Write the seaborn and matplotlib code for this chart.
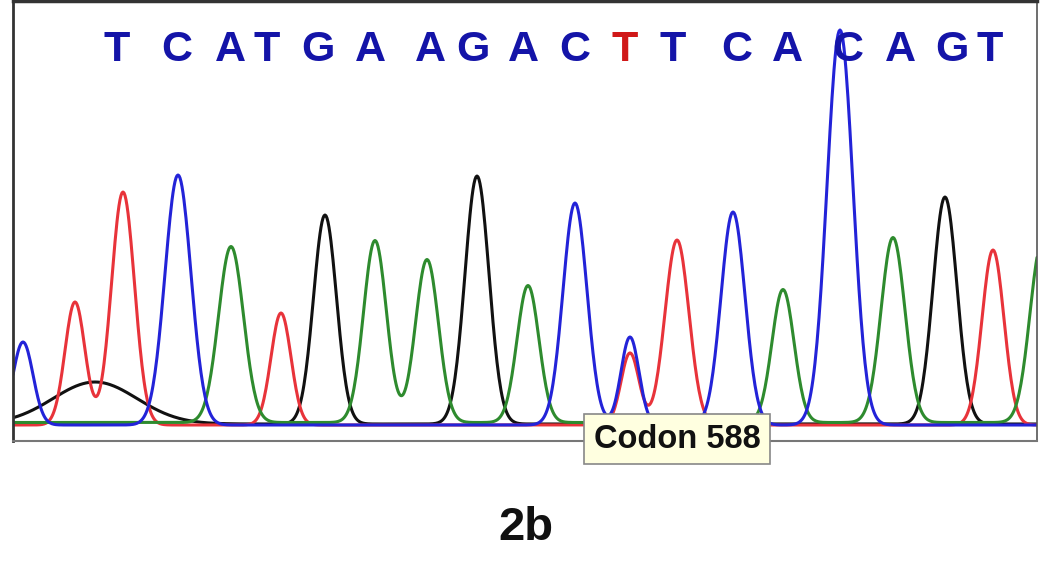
import numpy as np
import pandas as pd
import matplotlib
matplotlib.use("Agg")
import matplotlib.pyplot as plt
import seaborn as sns

# ---- data (x: scan position, y: signal above baseline) ----
base_calls = list("TCATGAAGACTTCACAGT")
call_pos = [117, 177, 230, 267, 318, 370, 430, 473, 523, 575, 625, 673, 737, 787, 848, 900, 952, 990]
call_colors = ["#1414a8"] * 10 + ["#d01818"] + ["#1414a8"] * 7

blue_pos = [23, 178, 575, 630, 733, 840]
blue_height = [83, 250, 222, 88, 213, 395]
blue_width = [10, 13, 12, 9, 12, 13]

red_pos = [75, 123, 281, 630, 677, 993]
red_height = [123, 233, 112, 72, 185, 175]
red_width = [10, 11.5, 10, 9, 12, 11]

green_pos = [231, 375, 427, 528, 783, 893, 1042]
green_height = [176, 182, 163, 137, 133, 185, 180]
green_width = [12.5, 11.5, 11.5, 11, 11, 12, 12]

black_pos = [95, 325, 477, 945]
black_height = [42, 209, 248, 227]
black_width = [42, 11.5, 12, 12]

# baseline level of each channel (pixels above the common baseline)
channel_names = ["black", "red", "green", "blue"]
channel_baseline = [1, 0, 2.5, 0]
channel_colors = ["#111111", "#e8333a", "#2e8b2e", "#2323d8"]

marker_label = "Codon 588"
panel_label = "2b"

# ---- build traces from the peak tables ----
scan = np.arange(13, 1038, 1.0)

def trace(pos, height, width, base):
    s = np.full_like(scan, float(base))
    for c, h, w in zip(pos, height, width):
        s += h * np.exp(-0.5 * ((scan - c) / w) ** 2)
    return s

tables = {
    "black": (black_pos, black_height, black_width),
    "green": (green_pos, green_height, green_width),
    "red": (red_pos, red_height, red_width),
    "blue": (blue_pos, blue_height, blue_width),
}
frames = []
for name, b in zip(channel_names, channel_baseline):
    p, h, w = tables[name]
    frames.append(pd.DataFrame({"scan": scan, "signal": trace(p, h, w, b), "channel": name}))
df = pd.concat(frames, ignore_index=True)

sns.set_theme(style="white")
plt.rcParams["font.family"] = ["Liberation Sans", "DejaVu Sans"]

W, H = 1040, 588
fig = plt.figure(figsize=(W / 100, H / 100), dpi=100)
ax = fig.add_axes([13 / W, 1 - 441 / H, (1037 - 13) / W, 440 / H])

sns.lineplot(data=df, x="scan", y="signal", hue="channel",
             hue_order=channel_names, palette=dict(zip(channel_names, channel_colors)),
             estimator=None, sort=False, legend=False, linewidth=2.2, ax=ax)

ax.set_xlim(13, 1037)
ax.set_ylim(-16, 424)
ax.set_xticks([])
ax.set_yticks([])
ax.set_xlabel("")
ax.set_ylabel("")
for side, col, lw in [("left", "#333333", 2.0), ("top", "#333333", 2.5),
                      ("right", "#555555", 1.2), ("bottom", "#777777", 1.5)]:
    ax.spines[side].set_visible(True)
    ax.spines[side].set_color(col)
    ax.spines[side].set_linewidth(lw)

for letter, x, col in zip(base_calls, call_pos, call_colors):
    ax.text(x, 375, letter, color=col, fontsize=31, fontweight="bold",
            ha="center", va="center")

fig.text(677 / W, 1 - 439 / H, marker_label, fontsize=23.5, fontweight="bold",
         color="#111111", ha="center", va="center",
         bbox=dict(boxstyle="square,pad=0.3", facecolor="#ffffe0", edgecolor="#888888", linewidth=1.2))

fig.text(526 / W, 1 - 528 / H, panel_label, fontsize=34, fontweight="bold",
         color="#111111", ha="center", va="center")

fig.savefig("out.png", dpi=100, facecolor="white")
